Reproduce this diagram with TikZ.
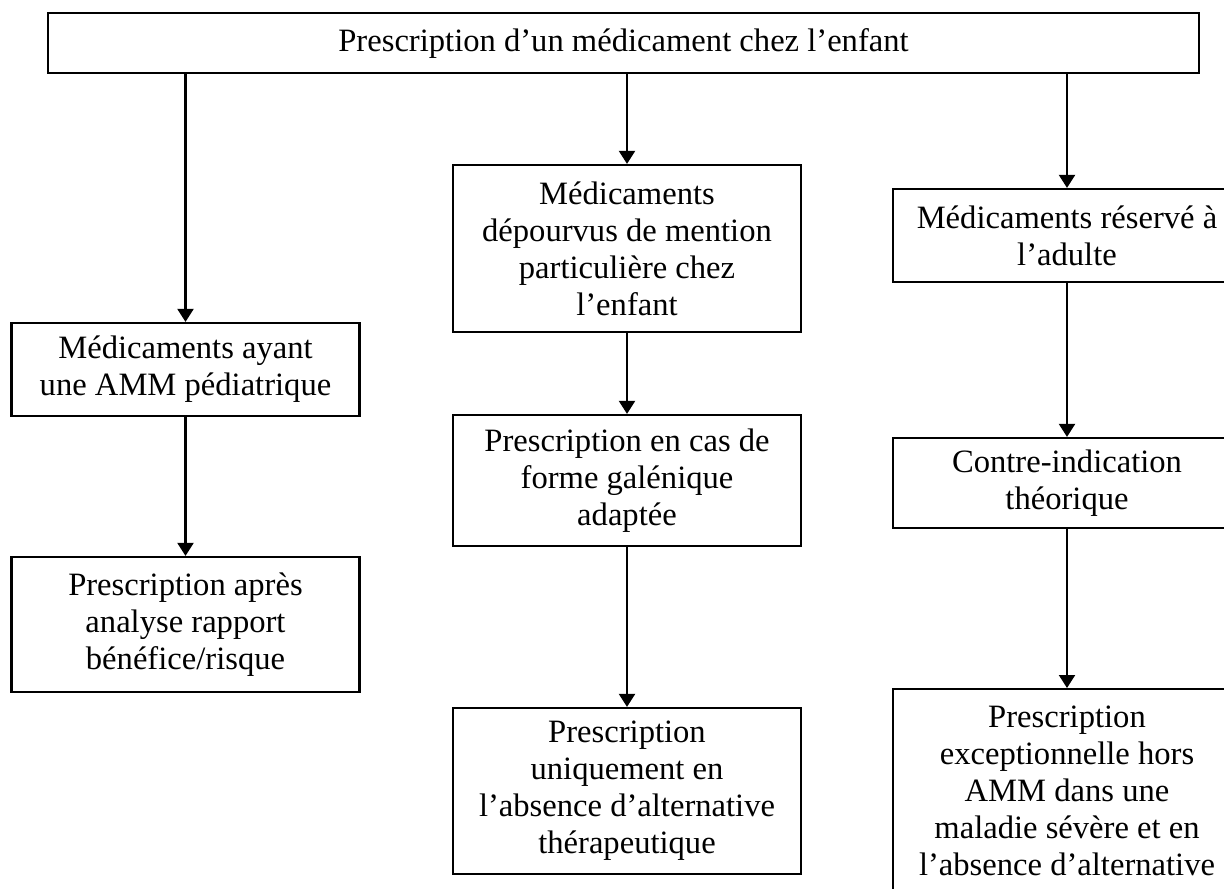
\documentclass[tikz,border=0pt]{standalone}
\usepackage{fontspec}
\setmainfont{Liberation Serif}
\usetikzlibrary{arrows.meta}
\begin{document}
\begin{tikzpicture}[x=0.5pt,y=-0.5pt,
  box/.style={draw=black, line width=1.1pt, rectangle, align=center,
    inner sep=0pt, minimum width=174pt,
    font={\fontsize{16.3pt}{18.5pt}\selectfont}},
  label/.style={align=center, inner sep=0pt,
    font={\fontsize{16.3pt}{18.5pt}\selectfont}},
  arr/.style={draw=black, line width=1.05pt,
    -{Triangle[width=8pt,length=6.5pt]}}]
  \useasboundingbox (0,0) rectangle (1224,888);
  \clip (0,0) rectangle (1224,888);

  % root
  \node[box, minimum width=575.5pt, minimum height=30pt] (top) at (623.5,43)
    {Prescription d’un médicament chez l’enfant};

  % left branch
  \node[box, minimum height=46.5pt] (L1) at (185.5,369.5)
    {Médicaments ayant\\une AMM pédiatrique};
  \node[box, minimum height=67.5pt] (L2) at (185.5,624.5)
    {Prescription après\\analyse rapport\\bénéfice/risque};

  % middle branch
  \node[box, minimum height=83.5pt] (M1) at (627,248.5)
    {Médicaments\\dépourvus de mention\\particulière chez\\l’enfant};
  \node[box, minimum height=65.5pt] (M2) at (627,480.5)
    {Prescription en cas de\\forme galénique\\adaptée};
  \node[box, minimum height=83pt] (M3) at (627,791)
    {Prescription\\uniquement en\\l’absence d’alternative\\thérapeutique};

  % right branch
  \node[box, minimum height=46.5pt] (R1) at (1067,235.5)
    {Médicaments réservé à\\l’adulte};
  \node[box, minimum height=45pt] (R2) at (1067,483)
    {Contre-indication\\théorique};
  \node[box, minimum height=125pt, anchor=north] (R3) at (1067,688) {};
  \node[label, anchor=north] (R3t) at (1067,706)
    {Prescription\\exceptionnelle hors\\AMM dans une\\maladie sévère et en\\l’absence d’alternative};

  % connectors
  \draw[arr] (L1.north |- top.south) -- (L1.north);
  \draw[arr] (M1.north |- top.south) -- (M1.north);
  \draw[arr] (R1.north |- top.south) -- (R1.north);
  \draw[arr] (L1.south) -- (L2.north);
  \draw[arr] (M1.south) -- (M2.north);
  \draw[arr] (M2.south) -- (M3.north);
  \draw[arr] (R1.south) -- (R2.north);
  \draw[arr] (R2.south) -- (R3.north);
\end{tikzpicture}
\end{document}
